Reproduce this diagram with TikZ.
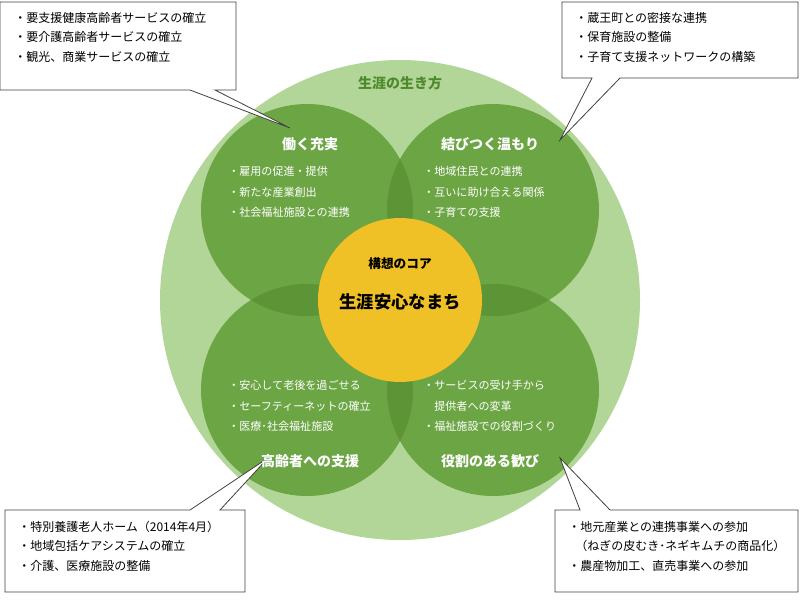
\documentclass[tikz,border=0pt]{standalone}
\usepackage{fontspec}
\setmainfont{Noto Sans CJK JP}
\definecolor{lg}{HTML}{B2D698}
\definecolor{mg}{HTML}{6CA544}
\definecolor{dg}{HTML}{5C9436}
\definecolor{yl}{HTML}{F0C127}
\definecolor{tg}{HTML}{4E8A2C}
\tikzset{
 lst/.style={align=left,anchor=north west,font=\fontsize{9}{14.5}\selectfont,inner sep=0pt},
 ttl/.style={text=white,font=\fontsize{10.5}{12}\selectfont\bfseries},
 itm/.style={text=white,align=left,anchor=north west,font=\fontsize{8.3}{15.5}\selectfont,inner sep=0pt},
 call/.style={draw=black!75,fill=white,line width=0.6pt}
}
\begin{document}
\begin{tikzpicture}[x=0.75pt,y=-0.75pt]
\useasboundingbox (0,0) rectangle (800,600);
% circles
\fill[lg] (400,300) circle (240);
\foreach \p in {(307,210),(493,210),(307,390),(493,390)} \fill[mg] \p circle (106);
\begin{scope}\clip (307,210) circle (106); \fill[dg] (493,210) circle (106); \fill[dg] (307,390) circle (106);\end{scope}
\begin{scope}\clip (493,390) circle (106); \fill[dg] (493,210) circle (106); \fill[dg] (307,390) circle (106);\end{scope}
\fill[yl] (400,300) circle (82);
% callouts
\draw[call] (0,2)--(236,2)--(236,90)--(215,90)--(290,128)--(190,90)--(0,90)--cycle;
\draw[call] (562,2)--(798,2)--(798,78)--(620,78)--(560,140)--(592,78)--(562,78)--cycle;
\draw[call] (5,510)--(190,510)--(268,458)--(220,510)--(245,510)--(245,592)--(5,592)--cycle;
\draw[call] (555,510)--(580,510)--(560,458)--(610,510)--(798,510)--(798,592)--(555,592)--cycle;
% texts
\node[text=tg,font=\fontsize{10.5}{12}\selectfont\bfseries] (life) at (400,83) {生涯の生き方};
\node[ttl] (t1) at (310,144) {働く充実};
\node[ttl] (t2) at (490,144) {結びつく温もり};
\node[ttl] (t3) at (310,461) {高齢者への支援};
\node[ttl] (t4) at (490,461) {役割のある歓び};
\node[itm] (i1) at (228,166) {・雇用の促進・提供\\・新たな産業創出\\・社会福祉施設との連携};
\node[itm] (i2) at (423,166) {・地域住民との連携\\・互いに助け合える関係\\・子育ての支援};
\node[itm] (i3) at (228,380) {・安心して老後を過ごせる\\・セーフティーネットの確立\\・医療･社会福祉施設};
\node[itm] (i4) at (423,380) {・サービスの受け手から\\\hspace*{1em}提供者への変革\\・福祉施設での役割づくり};
\node[font=\fontsize{9.5}{12}\selectfont\bfseries] (c1) at (400,264) {構想のコア};
\node[font=\fontsize{13}{15}\selectfont\bfseries] (c2) at (400,302) {生涯安心なまち};
\node[lst] (l1) at (14,12) {・要支援健康高齢者サービスの確立\\・要介護高齢者サービスの確立\\・観光、商業サービスの確立};
\node[lst] (l2) at (575,12) {・蔵王町との密接な連携\\・保育施設の整備\\・子育て支援ネットワークの構築};
\node[lst] (l3) at (18,521) {・特別養護老人ホーム（2014年4月）\\・地域包括ケアシステムの確立\\・介護、医療施設の整備};
\node[lst] (l4) at (568,521) {・地元産業との連携事業への参加\\\hspace*{0.6em}（ねぎの皮むき･ネギキムチの商品化）\\・農産物加工、直売事業への参加};
\end{tikzpicture}
\end{document}
